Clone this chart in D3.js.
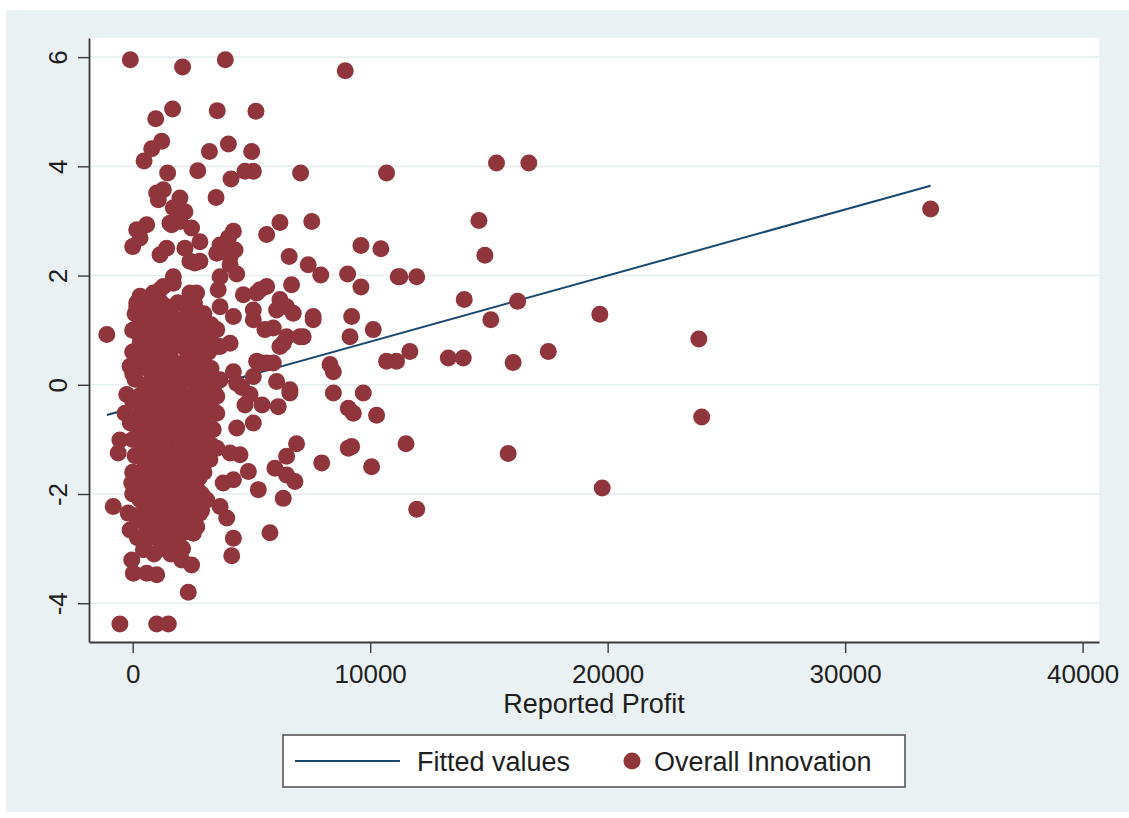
<!DOCTYPE html>
<html>
<head>
<meta charset="utf-8">
<script src="https://cdn.jsdelivr.net/npm/d3@7"></script>
<style>
  body { margin: 0; background: #fff; }
  svg { display: block; font-family: "Liberation Sans", Arial, Helvetica, sans-serif; }
</style>
</head>
<body>
<script>
// axis ticks
const xTicks = [0, 10000, 20000, 30000, 40000];
const yTicks = [-4, -2, 0, 2, 4, 6];

// legend entries
const legendLabels = ["Fitted values", "Overall Innovation"];
const xTitle = "Reported Profit";

// linear fit of innovation on profit
const fitIntercept = -0.42;
const fitSlope = 0.000121;

// scattered observations [profit, innovation]
const outerPoints = [
  [-100,5.95],[2100,5.82],[3900,5.95],[8950,5.75],[970,4.87],[1680,5.05],[3560,5.02],[5190,5.01],
  [480,4.10],[800,4.32],[1220,4.46],[3230,4.27],[4030,4.41],[5010,4.27],
  [1470,3.88],[2740,3.92],[4140,3.77],[4730,3.91],[5080,3.91],[7070,3.88],[10690,3.88],
  [3510,3.43],[1010,3.51],[1290,3.57],[1080,3.39],[1990,3.42],[1710,3.24],[2200,3.17],
  [1640,2.93],[1990,2.99],[2480,2.87],[170,2.84],[590,2.93],[0,2.53],[310,2.69],
  [4240,2.81],[4030,2.69],[3680,2.56],[4310,2.47],[3540,2.41],[4100,2.35],[4100,2.20],[4380,2.03],[3680,1.98],[3600,1.74],
  [2830,2.62],[1150,2.38],[1430,2.50],[2200,2.50],[2410,2.26],[2830,2.26],
  [5640,2.75],[6200,2.97],[6590,2.35],[7390,2.20],[7920,2.01],[7540,2.99],
  [9610,2.55],[10450,2.49],[9050,2.03],[9610,1.79],[11180,1.98],
  [6690,1.83],[5640,1.80],[5220,1.68],[4660,1.65],[1710,1.98],[1290,1.80],[310,1.62],[870,1.68],[2690,1.68],
  [15320,4.06],[16680,4.06],[14580,3.01],[14830,2.37],[11250,1.98],[11960,1.98],
  [13960,1.56],[16210,1.53],[15080,1.19],[19670,1.29],[23840,0.84],
  [10130,1.01],[9220,1.25],[9150,0.88],[11670,0.61],[10690,0.43],[11110,0.43],
  [13290,0.49],[13920,0.49],[16020,0.41],[17500,0.61],
  [9710,-0.15],[9290,-0.52],[10270,-0.56],[23960,-0.59],[9220,-1.13],[11510,-1.08],[10060,-1.50],
  [15810,-1.26],[19770,-1.89],[11960,-2.28],[33600,3.22],
  [-1090,0.92],[0,0.31],[-250,-0.18],[-320,-0.52],[-540,-1.01],[-610,-1.25],[-40,-1.80],[-820,-2.23],
  [-190,-2.35],[-110,-2.66],[-40,-3.21],[30,-3.45],[590,-3.45],[1010,-3.48],[450,-3.02],[2060,-3.21],
  [2480,-3.30],[2340,-3.80],[-540,-4.38],[1010,-4.38],[1500,-4.38],
  [4170,-3.13],[4240,-2.81],[5780,-2.71],[3960,-2.44],[3680,-2.23],[3120,-2.11],[2830,-2.35],[2550,-2.72],
  [1850,-2.66],[1010,-2.72],
  [5290,-1.92],[4870,-1.59],[4240,-1.74],[3810,-1.80],[4520,-1.28],[4100,-1.25],[3540,-1.16],
  [6340,-2.08],[6830,-1.77],[6480,-1.65],[5990,-1.53],[6480,-1.31],[6900,-1.08],[7960,-1.43],[9080,-1.16],
  [8450,-0.15],[9080,-0.43],[8310,0.37],[8450,0.24],[7600,1.19],[7180,0.88],[6340,0.76],
  [6620,-0.15],[6130,-0.40],[5080,-0.70],[4380,-0.79],[5640,0.40],[6060,0.06],[5220,0.43],[4240,0.24],
  [3680,0.09],[3540,-0.21],[3540,-0.52],[3390,-0.82],[3120,-0.43],
  [4100,0.76],[3540,1.01],[3680,1.43],[4240,1.25],[5080,1.19],[5920,1.04],[6060,1.37],[6760,1.31],[6480,0.88],
  [170,1.43],[800,1.01],[450,0.76],[1010,0.64],
  [1570,2.96],[2620,2.23],[4030,2.41],[-110,0.34],[170,1.50],[1710,1.86],[1150,1.74],[2410,1.68],
  [1430,1.43],[2690,1.37],[590,1.07],[310,0.76],[590,0.52],[1990,1.13],[2830,1.01],
  [5360,1.74],[6200,1.56],[6480,1.43],[7600,1.25],[7040,0.88],[5080,1.37],[5570,1.01],[6200,0.70],
  [5430,0.40],[5920,0.40],[3680,0.70],[4380,0.03],[5080,0.15],[6620,-0.09],[3390,-0.09],
  [4730,-0.37],[5450,-0.37],[4940,-0.18],[3050,-1.01],[3250,-1.37],[2830,-1.56],[4600,-0.05]
];

// dense block of observations near zero profit
const corePoints = [
  [400,1.5],[1200,1.5],[1900,1.5],[2600,1.5],
  [700,1.4],[1600,1.4],[2300,1.4],
  [100,1.3],[900,1.3],[1500,1.3],[2300,1.3],[3000,1.3],
  [300,1.2],[1000,1.2],[1800,1.2],[2500,1.2],
  [600,1.1],[1300,1.1],[2000,1.1],[2700,1.1],[3300,1.1],
  [0,1.0],[700,1.0],[1400,1.0],[2100,1.0],[2900,1.0],
  [300,0.9],[1000,0.9],[1700,0.9],[2400,0.9],[3100,0.9],
  [600,0.8],[1300,0.8],[2000,0.8],[2700,0.8],[3300,0.8],
  [700,0.7],[1400,0.7],[2100,0.7],[2800,0.7],[3500,0.7],
  [0,0.6],[800,0.6],[1500,0.6],[2600,0.6],[3200,0.6],
  [200,0.5],[1000,0.5],[1600,0.5],[2300,0.5],[3000,0.5],
  [400,0.4],[1000,0.4],[1700,0.4],[2500,0.4],[3000,0.4],
  [600,0.3],[1300,0.3],[2000,0.3],[2600,0.3],[3300,0.3],
  [0,0.2],[800,0.2],[1400,0.2],[2200,0.2],[2900,0.2],
  [100,0.1],[900,0.1],[1600,0.1],[2300,0.1],[3000,0.1],
  [600,0.0],[1300,0.0],[2000,0.0],[2800,0.0],[3300,0.0],
  [500,-0.1],[1200,-0.1],[1900,-0.1],[2700,-0.1],[3400,-0.1],
  [300,-0.2],[1000,-0.2],[1700,-0.2],[2400,-0.2],[3000,-0.2],
  [0,-0.3],[800,-0.3],[1500,-0.3],[2200,-0.3],[2900,-0.3],
  [600,-0.4],[1300,-0.4],[2000,-0.4],[2700,-0.4],[3300,-0.4],
  [400,-0.5],[1100,-0.5],[1800,-0.5],[2500,-0.5],[3200,-0.5],
  [100,-0.6],[800,-0.6],[1500,-0.6],[2300,-0.6],[3000,-0.6],
  [-100,-0.7],[700,-0.7],[1400,-0.7],[2100,-0.7],[2800,-0.7],
  [500,-0.8],[1200,-0.8],[1900,-0.8],[2600,-0.8],[3300,-0.8],
  [300,-0.9],[1000,-0.9],[1700,-0.9],[2400,-0.9],[3100,-0.9],
  [0,-1.0],[800,-1.0],[1500,-1.0],[2300,-1.0],[2900,-1.0],
  [600,-1.1],[1300,-1.1],[2000,-1.1],[2700,-1.1],[3300,-1.1],
  [400,-1.2],[1100,-1.2],[1900,-1.2],[2600,-1.2],
  [100,-1.3],[900,-1.3],[1600,-1.3],[2300,-1.3],[2900,-1.3],
  [700,-1.4],[1400,-1.4],[2100,-1.4],[2800,-1.4],
  [500,-1.5],[1200,-1.5],[1900,-1.5],[2600,-1.5],
  [0,-1.6],[900,-1.6],[1600,-1.6],[2400,-1.6],[3000,-1.6],
  [200,-1.7],[800,-1.7],[1500,-1.7],[2200,-1.7],[2800,-1.7],
  [400,-1.8],[1100,-1.8],[1800,-1.8],[2400,-1.8],
  [600,-1.9],[1300,-1.9],[2000,-1.9],[2700,-1.9],
  [0,-2.0],[700,-2.0],[1500,-2.0],[2200,-2.0],[2900,-2.0],
  [300,-2.1],[1000,-2.1],[1700,-2.1],[2400,-2.1],
  [500,-2.2],[1200,-2.2],[1900,-2.2],[2600,-2.2],
  [700,-2.3],[1400,-2.3],[2100,-2.3],[2900,-2.3],
  [100,-2.4],[800,-2.4],[1500,-2.4],[2300,-2.4],
  [400,-2.5],[1100,-2.5],[1800,-2.5],[2500,-2.5],
  [600,-2.6],[1300,-2.6],[2000,-2.6],[2700,-2.6],
  [800,-2.7],[1500,-2.7],[2200,-2.7],
  [200,-2.8],[1000,-2.8],[1700,-2.8],
  [500,-2.9],[1200,-2.9],[1900,-2.9],
  [1300,-3.0],[2100,-3.0],
  [900,-3.1],[1600,-3.1]
];

const points = outerPoints.concat(corePoints);

const W = 1129, H = 818;
const plot = { left: 89, right: 1099, top: 38, bottom: 642 };
const dotColor = "#90353b";
const lineColor = "#1a476f";
const axisColor = "#3a3a3a";
const textColor = "#1e1e1e";

const svg = d3.select("body").append("svg")
  .attr("width", W)
  .attr("height", H);

// outer graph region
svg.append("rect")
  .attr("x", 6).attr("y", 10)
  .attr("width", W - 6).attr("height", 802)
  .attr("fill", "#eaf1f3");

// plot region
svg.append("rect")
  .attr("x", plot.left).attr("y", plot.top)
  .attr("width", plot.right - plot.left).attr("height", plot.bottom - plot.top)
  .attr("fill", "#ffffff");

const x = d3.scaleLinear().domain([-1840, 40690]).range([plot.left, plot.right]);
const y = d3.scaleLinear().domain([-4.71, 6.35]).range([plot.bottom, plot.top]);

// gridlines
svg.append("g")
  .selectAll("line")
  .data(yTicks)
  .enter().append("line")
  .attr("x1", plot.left).attr("x2", plot.right)
  .attr("y1", d => y(d)).attr("y2", d => y(d))
  .attr("stroke", "#e6eef0")
  .attr("stroke-width", 1.6);

// fitted line, drawn under the markers
const xExtent = d3.extent(points, d => d[0]);
svg.append("path")
  .datum(xExtent.map(v => [v, fitIntercept + fitSlope * v]))
  .attr("d", d3.line().x(d => x(d[0])).y(d => y(d[1])))
  .attr("fill", "none")
  .attr("stroke", lineColor)
  .attr("stroke-width", 2);

// markers
svg.append("g")
  .selectAll("circle")
  .data(points)
  .enter().append("circle")
  .attr("cx", d => x(d[0]))
  .attr("cy", d => y(d[1]))
  .attr("r", 8.5)
  .attr("fill", dotColor);

// x axis
const gx = svg.append("g")
  .attr("transform", "translate(0," + plot.bottom + ")")
  .call(d3.axisBottom(x).tickValues(xTicks).tickSize(11).tickSizeOuter(0).tickFormat(d => String(d)));
gx.select(".domain").attr("stroke", axisColor).attr("stroke-width", 1.8);
gx.selectAll(".tick line").attr("stroke", axisColor).attr("stroke-width", 1.4);
gx.selectAll(".tick text")
  .attr("y", 41).attr("dy", 0)
  .attr("fill", textColor)
  .style("font-size", "26px")
  .style("font-family", "'Liberation Sans', Arial, sans-serif");

// y axis, labels turned sideways as Stata does
const gy = svg.append("g")
  .attr("transform", "translate(" + plot.left + ",0)")
  .call(d3.axisLeft(y).tickValues(yTicks).tickSize(11).tickSizeOuter(0).tickFormat(d => String(d)));
gy.select(".domain").attr("stroke", axisColor).attr("stroke-width", 1.8);
gy.selectAll(".tick line").attr("stroke", axisColor).attr("stroke-width", 1.4);
gy.selectAll(".tick text")
  .attr("x", 0).attr("y", 0).attr("dy", 0)
  .attr("text-anchor", "middle")
  .attr("transform", "translate(-22,0) rotate(-90)")
  .attr("fill", textColor)
  .style("font-size", "26px")
  .style("font-family", "'Liberation Sans', Arial, sans-serif");

// x title
svg.append("text")
  .attr("x", (plot.left + plot.right) / 2)
  .attr("y", 713)
  .attr("text-anchor", "middle")
  .attr("fill", textColor)
  .style("font-size", "27px")
  .text(xTitle);

// legend
const legend = svg.append("g");
legend.append("rect")
  .attr("x", 283).attr("y", 735)
  .attr("width", 622).attr("height", 52)
  .attr("fill", "#ffffff")
  .attr("stroke", "#555")
  .attr("stroke-width", 1.6);
legend.append("line")
  .attr("x1", 295).attr("x2", 400)
  .attr("y1", 761).attr("y2", 761)
  .attr("stroke", lineColor)
  .attr("stroke-width", 2);
legend.append("text")
  .attr("x", 417).attr("y", 771)
  .attr("fill", textColor)
  .style("font-size", "27px")
  .text(legendLabels[0]);
legend.append("circle")
  .attr("cx", 632).attr("cy", 761)
  .attr("r", 8.5)
  .attr("fill", dotColor);
legend.append("text")
  .attr("x", 654).attr("y", 771)
  .attr("fill", textColor)
  .style("font-size", "27px")
  .text(legendLabels[1]);
</script>
</body>
</html>
